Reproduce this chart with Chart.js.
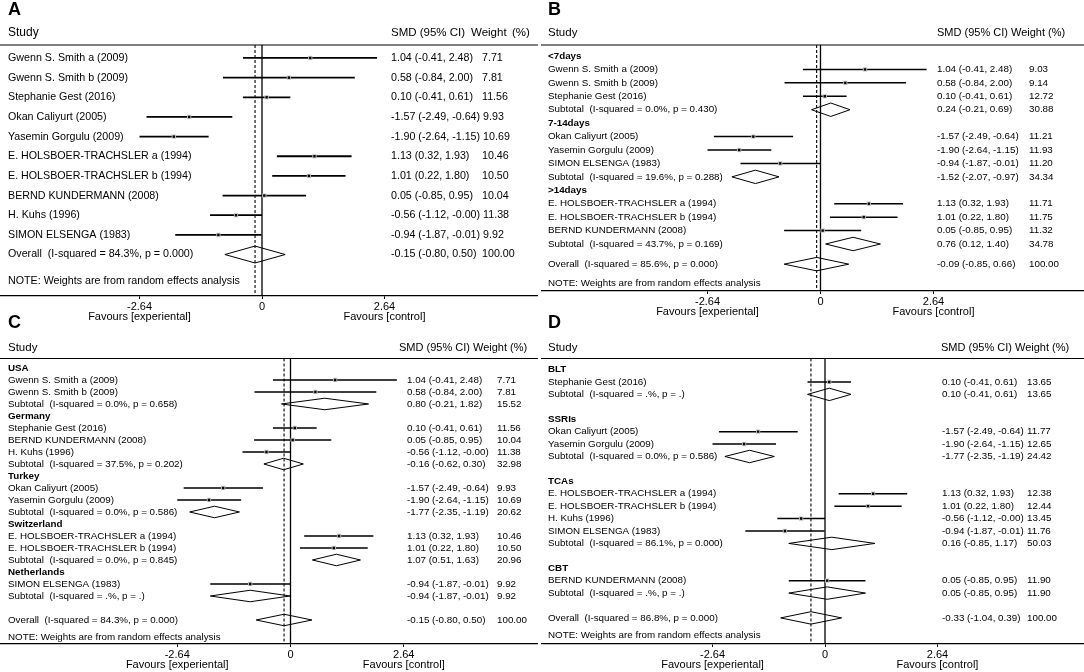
<!DOCTYPE html>
<html>
<head>
<meta charset="utf-8">
<script src="https://cdn.jsdelivr.net/npm/chart.js@4.4.1/dist/chart.umd.min.js"></script>
<style>
  html, body { margin: 0; padding: 0; background: #fff; }
  #wrap { position: relative; width: 1084px; height: 672px; overflow: hidden; background: #fff; }
  #wrap canvas { position: absolute; }
</style>
</head>
<body>
<div id="wrap">
  <canvas id="panelA" width="538" height="330" style="left:0;top:0"></canvas>
  <canvas id="panelB" width="543" height="330" style="left:541px;top:0"></canvas>
  <canvas id="panelC" width="538" height="360" style="left:0;top:312px"></canvas>
  <canvas id="panelD" width="543" height="360" style="left:541px;top:312px"></canvas>
</div>
<script>
// ---------------------------
// Shared axis
// ---------------------------
const tickValues = [-2.64, 0, 2.64];
const tickLabels = ['-2.64', '0', '2.64'];
const favourLabels = ['Favours [experiental]', 'Favours [control]'];
const noteText = 'NOTE: Weights are from random effects analysis';

// ---------------------------
// A: all studies
// ---------------------------
const aStudies = ['Gwenn S. Smith a (2009)', 'Gwenn S. Smith b (2009)', 'Stephanie Gest (2016)', 'Okan Caliyurt (2005)',
  'Yasemin Gorgulu (2009)', 'E. HOLSBOER-TRACHSLER a (1994)', 'E. HOLSBOER-TRACHSLER b (1994)',
  'BERND KUNDERMANN (2008)', 'H. Kuhs (1996)', 'SIMON ELSENGA (1983)'];
const aSmd = [1.04, 0.58, 0.10, -1.57, -1.90, 1.13, 1.01, 0.05, -0.56, -0.94];
const aLow = [-0.41, -0.84, -0.41, -2.49, -2.64, 0.32, 0.22, -0.85, -1.12, -1.87];
const aHigh = [2.48, 2.00, 0.61, -0.64, -1.15, 1.93, 1.80, 0.95, -0.00, -0.01];
const aWeight = [7.71, 7.81, 11.56, 9.93, 10.69, 10.46, 10.50, 10.04, 11.38, 9.92];
const aOverallLabel = 'Overall  (I-squared = 84.3%, p = 0.000)';
const aOverall = [-0.15, -0.80, 0.50, 100.00];

// ---------------------------
// B: by duration
// ---------------------------
const bGroups = ['<7days', '7-14days', '>14days'];
const bGroupOf = [0, 0, 0, 1, 1, 1, 2, 2, 2];
const bStudies = ['Gwenn S. Smith a (2009)', 'Gwenn S. Smith b (2009)', 'Stephanie Gest (2016)',
  'Okan Caliyurt (2005)', 'Yasemin Gorgulu (2009)', 'SIMON ELSENGA (1983)',
  'E. HOLSBOER-TRACHSLER a (1994)', 'E. HOLSBOER-TRACHSLER b (1994)', 'BERND KUNDERMANN (2008)'];
const bSmd = [1.04, 0.58, 0.10, -1.57, -1.90, -0.94, 1.13, 1.01, 0.05];
const bLow = [-0.41, -0.84, -0.41, -2.49, -2.64, -1.87, 0.32, 0.22, -0.85];
const bHigh = [2.48, 2.00, 0.61, -0.64, -1.15, -0.01, 1.93, 1.80, 0.95];
const bWeight = [9.03, 9.14, 12.72, 11.21, 11.93, 11.20, 11.71, 11.75, 11.32];
const bSubLabels = ['Subtotal  (I-squared = 0.0%, p = 0.430)', 'Subtotal  (I-squared = 19.6%, p = 0.288)',
  'Subtotal  (I-squared = 43.7%, p = 0.169)'];
const bSubSmd = [0.24, -1.52, 0.76];
const bSubLow = [-0.21, -2.07, 0.12];
const bSubHigh = [0.69, -0.97, 1.40];
const bSubWeight = [30.88, 34.34, 34.78];
const bOverallLabel = 'Overall  (I-squared = 85.6%, p = 0.000)';
const bOverall = [-0.09, -0.85, 0.66, 100.00];

// ---------------------------
// C: by country
// ---------------------------
const cGroups = ['USA', 'Germany', 'Turkey', 'Switzerland', 'Netherlands'];
const cGroupOf = [0, 0, 1, 1, 1, 2, 2, 3, 3, 4];
const cStudies = ['Gwenn S. Smith a (2009)', 'Gwenn S. Smith b (2009)', 'Stephanie Gest (2016)',
  'BERND KUNDERMANN (2008)', 'H. Kuhs (1996)', 'Okan Caliyurt (2005)', 'Yasemin Gorgulu (2009)',
  'E. HOLSBOER-TRACHSLER a (1994)', 'E. HOLSBOER-TRACHSLER b (1994)', 'SIMON ELSENGA (1983)'];
const cSmd = [1.04, 0.58, 0.10, 0.05, -0.56, -1.57, -1.90, 1.13, 1.01, -0.94];
const cLow = [-0.41, -0.84, -0.41, -0.85, -1.12, -2.49, -2.64, 0.32, 0.22, -1.87];
const cHigh = [2.48, 2.00, 0.61, 0.95, -0.00, -0.64, -1.15, 1.93, 1.80, -0.01];
const cWeight = [7.71, 7.81, 11.56, 10.04, 11.38, 9.93, 10.69, 10.46, 10.50, 9.92];
const cSubLabels = ['Subtotal  (I-squared = 0.0%, p = 0.658)', 'Subtotal  (I-squared = 37.5%, p = 0.202)',
  'Subtotal  (I-squared = 0.0%, p = 0.586)', 'Subtotal  (I-squared = 0.0%, p = 0.845)',
  'Subtotal  (I-squared = .%, p = .)'];
const cSubSmd = [0.80, -0.16, -1.77, 1.07, -0.94];
const cSubLow = [-0.21, -0.62, -2.35, 0.51, -1.87];
const cSubHigh = [1.82, 0.30, -1.19, 1.63, -0.01];
const cSubWeight = [15.52, 32.98, 20.62, 20.96, 9.92];
const cOverallLabel = 'Overall  (I-squared = 84.3%, p = 0.000)';
const cOverall = [-0.15, -0.80, 0.50, 100.00];

// ---------------------------
// D: by treatment
// ---------------------------
const dGroups = ['BLT', 'SSRIs', 'TCAs', 'CBT'];
const dGroupOf = [0, 1, 1, 2, 2, 2, 2, 3];
const dStudies = ['Stephanie Gest (2016)', 'Okan Caliyurt (2005)', 'Yasemin Gorgulu (2009)',
  'E. HOLSBOER-TRACHSLER a (1994)', 'E. HOLSBOER-TRACHSLER b (1994)', 'H. Kuhs (1996)',
  'SIMON ELSENGA (1983)', 'BERND KUNDERMANN (2008)'];
const dSmd = [0.10, -1.57, -1.90, 1.13, 1.01, -0.56, -0.94, 0.05];
const dLow = [-0.41, -2.49, -2.64, 0.32, 0.22, -1.12, -1.87, -0.85];
const dHigh = [0.61, -0.64, -1.15, 1.93, 1.80, -0.00, -0.01, 0.95];
const dWeight = [13.65, 11.77, 12.65, 12.38, 12.44, 13.45, 11.76, 11.90];
const dSubLabels = ['Subtotal  (I-squared = .%, p = .)', 'Subtotal  (I-squared = 0.0%, p = 0.586)',
  'Subtotal  (I-squared = 86.1%, p = 0.000)', 'Subtotal  (I-squared = .%, p = .)'];
const dSubSmd = [0.10, -1.77, 0.16, 0.05];
const dSubLow = [-0.41, -2.35, -0.85, -0.85];
const dSubHigh = [0.61, -1.19, 1.17, 0.95];
const dSubWeight = [13.65, 24.42, 50.03, 11.90];
const dOverallLabel = 'Overall  (I-squared = 86.8%, p = 0.000)';
const dOverall = [-0.33, -1.04, 0.39, 100.00];

const FONT = '"Liberation Sans", Arial, Helvetica, sans-serif';

// number like Stata prints it, keeps -0.00
function fmt(v) {
  return (Object.is(v, -0) ? '-' : '') + v.toFixed(2);
}
function ciText(e, l, h) {
  return fmt(e) + ' (' + fmt(l) + ', ' + fmt(h) + ')';
}

// rows: one unit per line of the plot
function layoutRows(p) {
  const rows = [];
  let y = 0;
  if (!p.groups) {
    p.studies.forEach((s, i) => rows.push({ kind: 'study', i, y: y++ }));
  } else {
    p.groups.forEach((g, gi) => {
      if (gi > 0) y += p.groupGap;
      rows.push({ kind: 'group', i: gi, y: y++ });
      p.groupOf.forEach((k, i) => { if (k === gi) rows.push({ kind: 'study', i, y: y++ }); });
      rows.push({ kind: 'sub', i: gi, y: y++ });
    });
  }
  y += p.overallGap;
  rows.push({ kind: 'overall', y });
  return { rows, overallY: y };
}

function makeTextPlugin(p, lay) {
  return {
    id: 'forestText' + p.letter,
    afterDraw(chart) {
      const ctx = chart.ctx;
      const ys = chart.scales.y;
      const xs = chart.scales.x;
      const area = chart.chartArea;
      ctx.save();
      ctx.fillStyle = '#000';
      ctx.strokeStyle = '#000';
      ctx.textBaseline = 'middle';
      ctx.textAlign = 'left';

      ctx.font = 'bold 18px ' + FONT;
      ctx.fillText(p.letter, p.nameX, p.letterY);

      // header
      ctx.font = p.studyFont + 'px ' + FONT;
      ctx.fillText('Study', p.nameX, area.top - p.headOff);
      ctx.font = p.headFont + 'px ' + FONT;
      p.headCols.forEach(h => ctx.fillText(h[0], h[1], area.top - p.headOff));
      ctx.lineWidth = 1.2;
      ctx.beginPath();
      ctx.moveTo(0, area.top);
      ctx.lineTo(chart.width, area.top);
      ctx.stroke();

      // rows
      const normal = p.rowFont + 'px ' + FONT;
      const bold = 'bold ' + p.rowFont + 'px ' + FONT;
      const putValues = (txt, w, y) => {
        ctx.fillText(txt, p.valX, y);
        const wx = Math.max(p.wtX, p.valX + ctx.measureText(txt).width + 3);
        ctx.fillText(w.toFixed(2), wx, y);
      };
      lay.rows.forEach(r => {
        const y = ys.getPixelForValue(r.y);
        if (r.kind === 'group') {
          ctx.font = bold;
          ctx.fillText(p.groups[r.i], p.nameX, y);
          return;
        }
        ctx.font = normal;
        if (r.kind === 'study') {
          ctx.fillText(p.studies[r.i], p.nameX, y);
          putValues(ciText(p.smd[r.i], p.low[r.i], p.high[r.i]), p.weight[r.i], y);
        } else if (r.kind === 'sub') {
          ctx.fillText(p.subLabels[r.i], p.nameX, y);
          putValues(ciText(p.subSmd[r.i], p.subLow[r.i], p.subHigh[r.i]), p.subWeight[r.i], y);
        } else {
          ctx.fillText(p.overallLabel, p.nameX, y);
          putValues(ciText(p.overall[0], p.overall[1], p.overall[2]), p.overall[3], y);
        }
      });
      ctx.font = normal;
      ctx.fillText(noteText, p.nameX, ys.getPixelForValue(lay.overallY + p.noteGap));

      // favours labels under the outer ticks
      ctx.font = '11px ' + FONT;
      ctx.textAlign = 'center';
      ctx.fillText(favourLabels[0], xs.getPixelForValue(tickValues[0]), area.bottom + 21);
      ctx.fillText(favourLabels[1], xs.getPixelForValue(tickValues[2]), area.bottom + 21);
      ctx.restore();
    }
  };
}

function drawPanel(canvasId, p) {
  const lay = layoutRows(p);
  const yTop = -p.headRows;
  const yBottom = lay.overallY + p.axisRows;
  const studyRows = lay.rows.filter(r => r.kind === 'study');
  const ci = [];
  const est = [];
  studyRows.forEach(r => {
    ci.push({ x: p.low[r.i], y: r.y }, { x: p.high[r.i], y: r.y }, { x: null, y: null });
    est.push({ x: p.smd[r.i], y: r.y });
  });
  const dia = [];
  const diamond = (e, l, h, y) => {
    dia.push({ x: l, y }, { x: e, y: y - p.dh }, { x: h, y }, { x: e, y: y + p.dh }, { x: l, y }, { x: null, y: null });
  };
  lay.rows.filter(r => r.kind === 'sub').forEach(r => diamond(p.subSmd[r.i], p.subLow[r.i], p.subHigh[r.i], r.y));
  diamond(p.overall[0], p.overall[1], p.overall[2], lay.overallY);

  const el = document.getElementById(canvasId);
  const top = parseFloat(el.style.top) || 0;
  new Chart(el, {
    type: 'line',
    data: {
      datasets: [
        { data: est, showLine: false, pointStyle: 'rect', pointRadius: 1.7, pointBackgroundColor: '#000', pointBorderWidth: 0 },
        { data: est, showLine: false, pointStyle: 'rect', pointRadius: 3, pointBackgroundColor: '#c4c4c4', pointBorderWidth: 0 },
        { data: ci, borderColor: '#000', borderWidth: p.ciWidth, pointRadius: 0, spanGaps: false },
        { data: dia, borderColor: '#000', borderWidth: 1, pointRadius: 0, spanGaps: false },
        { data: [{ x: 0, y: yTop }, { x: 0, y: yBottom }], borderColor: '#000', borderWidth: 1.3, pointRadius: 0 },
        { data: [{ x: p.overall[0], y: yTop }, { x: p.overall[0], y: yBottom }], borderColor: '#000',
          borderWidth: 1.1, borderDash: [3, 2], pointRadius: 0 }
      ]
    },
    options: {
      responsive: false,
      animation: false,
      devicePixelRatio: 1,
      events: [],
      layout: {
        autoPadding: false,
        padding: { left: 0, right: 0, top: p.headerPx - top, bottom: top + el.height - p.axisPx - 20 }
      },
      plugins: { legend: { display: false }, tooltip: { enabled: false } },
      scales: {
        x: {
          type: 'linear',
          position: 'bottom',
          min: p.xMin,
          max: p.xMax,
          afterBuildTicks: s => { s.ticks = tickValues.map(v => ({ value: v })); },
          afterFit: s => { s.height = 20; },
          ticks: {
            autoSkip: false, maxRotation: 0, padding: 1, color: '#000',
            font: { family: FONT, size: 11 },
            callback: (v, i) => tickLabels[i]
          },
          grid: { display: true, drawOnChartArea: false, drawTicks: true, tickLength: 3, color: '#000' },
          border: { display: true, color: '#000', width: 1.3 }
        },
        y: { type: 'linear', display: false, reverse: true, min: yTop, max: yBottom }
      }
    },
    plugins: [makeTextPlugin(p, lay)]
  });
}

drawPanel('panelA', {
  letter: 'A', letterY: 10, studies: aStudies, smd: aSmd, low: aLow, high: aHigh, weight: aWeight,
  overallLabel: aOverallLabel, overall: aOverall, overallGap: 0, noteGap: 1.35,
  headRows: 0.66, axisRows: 2.11, headerPx: 45, axisPx: 296, dh: 0.43, ciWidth: 1.8,
  xMin: -262 / 46.4, xMax: (538 - 262) / 46.4,
  nameX: 8, valX: 391, wtX: 482, rowFont: 10.7, studyFont: 12, headFont: 11.5, headOff: 12,
  headCols: [['SMD (95% CI)', 391], ['Weight', 471], ['(%)', 512]]
});

drawPanel('panelB', {
  letter: 'B', letterY: 10, groups: bGroups, groupOf: bGroupOf, studies: bStudies,
  smd: bSmd, low: bLow, high: bHigh, weight: bWeight,
  subLabels: bSubLabels, subSmd: bSubSmd, subLow: bSubLow, subHigh: bSubHigh, subWeight: bSubWeight,
  overallLabel: bOverallLabel, overall: bOverall, groupGap: 0, overallGap: 0.5, noteGap: 1.4,
  headRows: 0.82, axisRows: 2.0, headerPx: 45, axisPx: 291, dh: 0.5, ciWidth: 1.5,
  xMin: -279.5 / 42.8, xMax: (543 - 279.5) / 42.8,
  nameX: 7, valX: 396, wtX: 488, rowFont: 9.8, studyFont: 11.5, headFont: 11, headOff: 12,
  headCols: [['SMD (95% CI) Weight (%)', 396]]
});

drawPanel('panelC', {
  letter: 'C', letterY: 11, groups: cGroups, groupOf: cGroupOf, studies: cStudies,
  smd: cSmd, low: cLow, high: cHigh, weight: cWeight,
  subLabels: cSubLabels, subSmd: cSubSmd, subLow: cSubLow, subHigh: cSubHigh, subWeight: cSubWeight,
  overallLabel: cOverallLabel, overall: cOverall, groupGap: 0, overallGap: 1, noteGap: 1.4,
  headRows: 0.79, axisRows: 2.0, headerPx: 358.5, axisPx: 644, dh: 0.48, ciWidth: 1.5,
  xMin: -290.5 / 42.9, xMax: (538 - 290.5) / 42.9,
  nameX: 8, valX: 407, wtX: 497, rowFont: 9.8, studyFont: 11.5, headFont: 11, headOff: 11,
  headCols: [['SMD (95% CI) Weight (%)', 399]]
});

drawPanel('panelD', {
  letter: 'D', letterY: 11, groups: dGroups, groupOf: dGroupOf, studies: dStudies,
  smd: dSmd, low: dLow, high: dHigh, weight: dWeight,
  subLabels: dSubLabels, subSmd: dSubSmd, subLow: dSubLow, subHigh: dSubHigh, subWeight: dSubWeight,
  overallLabel: dOverallLabel, overall: dOverall, groupGap: 1, overallGap: 1, noteGap: 1.4,
  headRows: 0.89, axisRows: 2.1, headerPx: 358.5, axisPx: 644, dh: 0.5, ciWidth: 1.5,
  xMin: -284 / 42.6, xMax: (543 - 284) / 42.6,
  nameX: 7, valX: 401, wtX: 486, rowFont: 9.8, studyFont: 11.5, headFont: 11, headOff: 11,
  headCols: [['SMD (95% CI) Weight (%)', 400]]
});
</script>
</body>
</html>
